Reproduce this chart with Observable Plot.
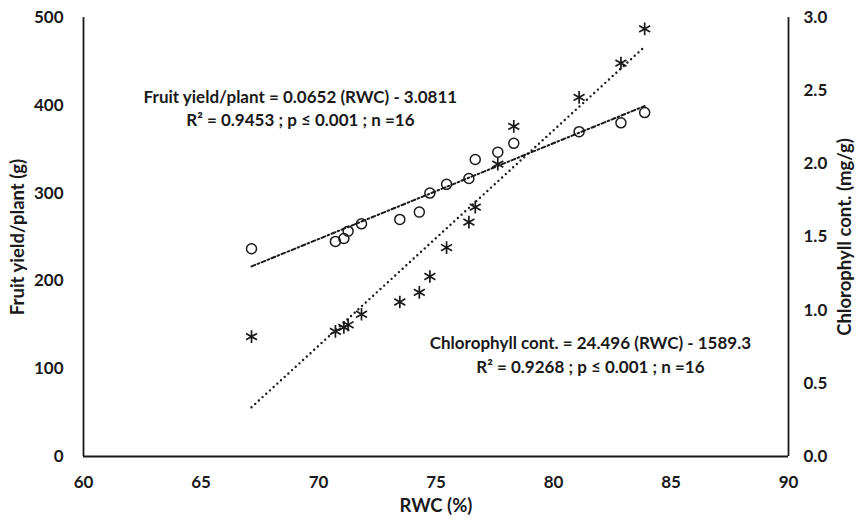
<!DOCTYPE html>
<html>
<head>
<meta charset="utf-8">
<script src="https://cdn.jsdelivr.net/npm/d3@7"></script>
<script src="https://cdn.jsdelivr.net/npm/@observablehq/plot@0.6"></script>
<style>
  html, body { margin: 0; padding: 0; background: #fff; }
  svg { display: block; }
</style>
</head>
<body>
<div id="chart"></div>
<script>
// RWC (%) values (x)
const rwc = [67.15, 70.72, 71.08, 71.26, 71.83, 73.46, 74.29, 74.74, 75.45, 76.40, 76.67, 77.63, 78.31, 81.09, 82.87, 83.88];
// Circles – right axis (mg/g)
const chlorophyll = [1.42, 1.47, 1.49, 1.54, 1.59, 1.62, 1.67, 1.80, 1.86, 1.90, 2.03, 2.08, 2.14, 2.22, 2.28, 2.35];
// Asterisks – left axis (g)
const fruitYield = [136.5, 142.5, 147, 150, 162, 176, 187, 205, 238, 267, 284, 333, 376, 409, 448, 487];

const xTicks = [60, 65, 70, 75, 80, 85, 90];
const yTicks = [0, 100, 200, 300, 400, 500];
const chlTicks = [0, 0.5, 1.0, 1.5, 2.0, 2.5, 3.0];

const annotations = [
  {x: 69.23, y: 409, text: "Fruit yield/plant = 0.0652 (RWC) - 3.0811"},
  {x: 69.23, y: 382.5, text: "R² = 0.9453 ; p ≤ 0.001 ; n =16"},
  {x: 81.57, y: 128.2, text: "Chlorophyll cont. = 24.496 (RWC) - 1589.3"},
  {x: 81.57, y: 101.5, text: "R² = 0.9268 ; p ≤ 0.001 ; n =16"}
];

const k = 500 / 3; // right axis (0–3) mapped onto left (0–500)
const pts = rwc.map((x, i) => ({rwc: x, fy: fruitYield[i], chl: chlorophyll[i] * k}));
const ink = "#1a1a1a";

const chart = Plot.plot({
  width: 861,
  height: 526,
  marginLeft: 83,
  marginRight: 73,
  marginTop: 17,
  marginBottom: 70,
  x: {domain: [60, 90]},
  y: {domain: [0, 500]},
  style: {fontFamily: "Lato, sans-serif", fontSize: "17px", fontWeight: "bold", color: ink, background: "#fff"},
  marks: [
    Plot.axisX({ticks: xTicks, tickSize: 0, tickPadding: 19, label: null, fontSize: 17}),
    Plot.axisY({ticks: yTicks, tickSize: 0, tickPadding: 20, label: null, fontSize: 17}),
    Plot.axisY({anchor: "right", ticks: chlTicks.map(t => t * k), tickFormat: d => (d / k).toFixed(1), tickSize: 0, tickPadding: 15, label: null, fontSize: 17}),
    Plot.ruleX([60, 90], {stroke: ink, strokeWidth: 1.8}),
    Plot.ruleY([0], {stroke: ink, strokeWidth: 1.8}),
    Plot.linearRegressionY(pts, {x: "rwc", y: "chl", ci: 0, stroke: ink, strokeWidth: 2, strokeDasharray: "4,2.6,1.6,2.6"}),
    Plot.linearRegressionY(pts, {x: "rwc", y: "fy", ci: 0, stroke: ink, strokeWidth: 2.4, strokeDasharray: "0,5", strokeLinecap: "round"}),
    Plot.dot(pts, {x: "rwc", y: "chl", r: 5, stroke: ink, strokeWidth: 1.5, fill: "none"}),
    Plot.dot(pts, {x: "rwc", y: "fy", symbol: "asterisk", r: 6, stroke: ink, strokeWidth: 1.7}),
    Plot.text(annotations, {x: "x", y: "y", text: "text", fill: ink, textAnchor: "middle", fontSize: 17}),
    Plot.text(["RWC (%)"], {frameAnchor: "bottom", dy: 50, lineAnchor: "middle", textAnchor: "middle", fill: ink, fontSize: 18.5}),
    Plot.text(["Fruit yield/plant (g)"], {frameAnchor: "left", rotate: -90, dx: -65, textAnchor: "middle", lineAnchor: "middle", fill: ink, fontSize: 18.5}),
    Plot.text(["Chlorophyll cont. (mg/g)"], {frameAnchor: "right", rotate: -90, dx: 57, textAnchor: "middle", lineAnchor: "middle", fill: ink, fontSize: 18.5})
  ]
});
document.getElementById("chart").append(chart);
</script>
</body>
</html>
